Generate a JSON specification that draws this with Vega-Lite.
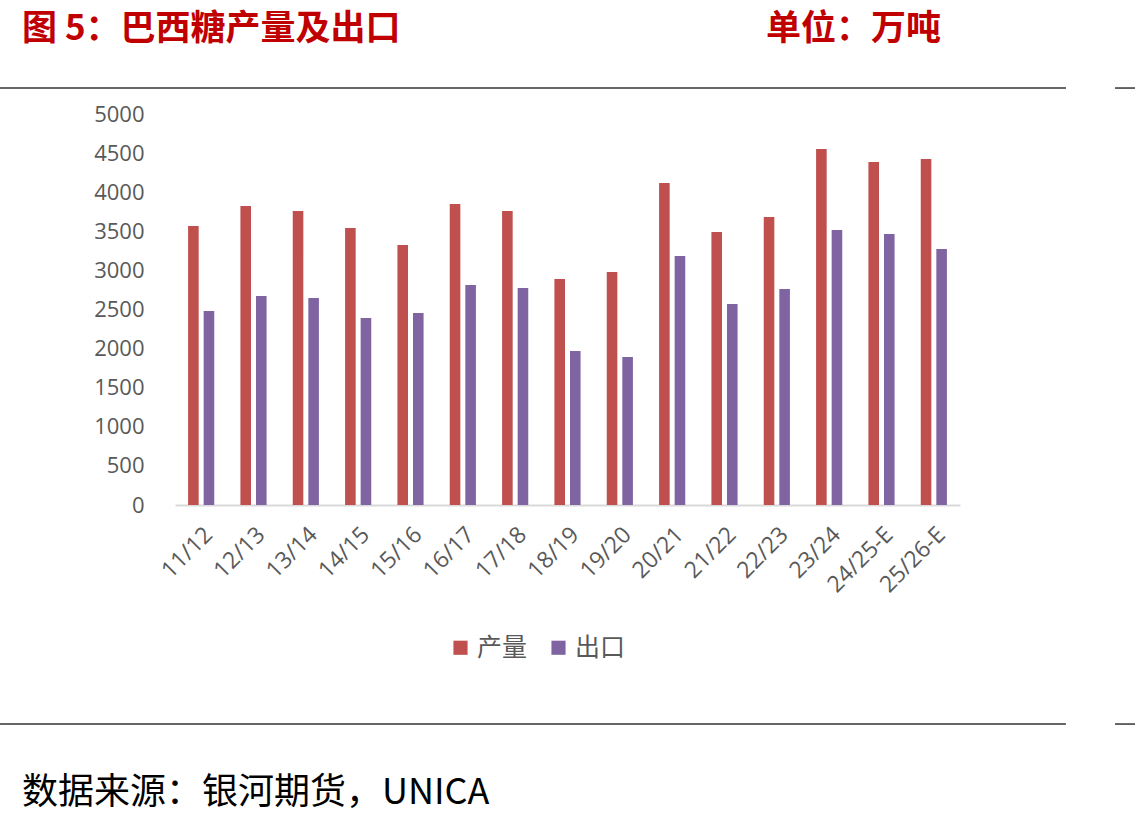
{
  "$schema": "https://vega.github.io/schema/vega-lite/v6.json",
  "width": 785,
  "height": 391,
  "autosize": {"type": "none"},
  "padding": {"left": 175, "top": 114, "right": 175, "bottom": 320},
  "background": "white",
  "config": {
    "view": {"stroke": null},
    "font": "Open Sans",
    "axisY": {"labelOverlap": false, "grid": false, "ticks": false, "domain": false, "labelFontSize": 22, "labelColor": "#595959", "labelPadding": 31, "title": null, "format": "d"}
  },
  "datasets": {
    "sugar": [
      {"season": "11/12", "series": "产量", "value": 3568},
      {"season": "11/12", "series": "出口", "value": 2481},
      {"season": "12/13", "series": "产量", "value": 3824},
      {"season": "12/13", "series": "出口", "value": 2673},
      {"season": "13/14", "series": "产量", "value": 3760},
      {"season": "13/14", "series": "出口", "value": 2647},
      {"season": "14/15", "series": "产量", "value": 3542},
      {"season": "14/15", "series": "出口", "value": 2391},
      {"season": "15/16", "series": "产量", "value": 3325},
      {"season": "15/16", "series": "出口", "value": 2455},
      {"season": "16/17", "series": "产量", "value": 3849},
      {"season": "16/17", "series": "出口", "value": 2813},
      {"season": "17/18", "series": "产量", "value": 3760},
      {"season": "17/18", "series": "出口", "value": 2775},
      {"season": "18/19", "series": "产量", "value": 2890},
      {"season": "18/19", "series": "出口", "value": 1969},
      {"season": "19/20", "series": "产量", "value": 2980},
      {"season": "19/20", "series": "出口", "value": 1893},
      {"season": "20/21", "series": "产量", "value": 4118},
      {"season": "20/21", "series": "出口", "value": 3184},
      {"season": "21/22", "series": "产量", "value": 3491},
      {"season": "21/22", "series": "出口", "value": 2570},
      {"season": "22/23", "series": "产量", "value": 3683},
      {"season": "22/23", "series": "出口", "value": 2762},
      {"season": "23/24", "series": "产量", "value": 4552},
      {"season": "23/24", "series": "出口", "value": 3517},
      {"season": "24/25-E", "series": "产量", "value": 4386},
      {"season": "24/25-E", "series": "出口", "value": 3465},
      {"season": "25/26-E", "series": "产量", "value": 4425},
      {"season": "25/26-E", "series": "出口", "value": 3274}
    ],
    "rules": [
      {"x0": -0.2229, "x1": 1.135, "yv": 5332},
      {"x0": 1.1975, "x1": 1.2229, "yv": 5332},
      {"x0": -0.2229, "x1": 1.135, "yv": -2801},
      {"x0": 1.1975, "x1": 1.2229, "yv": -2801}
    ],
    "texts": [
      {"t": "图 5：巴西糖产量及出口", "xv": -0.1949, "yv": 6090, "kind": "title"},
      {"t": "单位：万吨", "xv": 0.7529, "yv": 6090, "kind": "title"},
      {"t": "数据来源：银河期货，UNICA", "xv": -0.1949, "yv": -3683, "kind": "source"}
    ]
  },
  "resolve": {"scale": {"x": "independent"}},
  "layer": [
    {
      "data": {"name": "sugar"},
      "mark": {"type": "bar", "clip": false},
      "encoding": {
        "x": {
          "field": "season",
          "type": "nominal",
          "sort": null,
          "scale": {"paddingInner": 0.5, "paddingOuter": 0.25},
          "axis": {
            "title": null,
            "labelAngle": -45,
            "labelFontSize": 23,
            "labelColor": "#595959",
            "labelPadding": 18,
            "ticks": false,
            "domainColor": "#D9D9D9",
            "domainWidth": 2
          }
        },
        "xOffset": {
          "field": "series",
          "type": "nominal",
          "sort": ["产量", "出口"],
          "scale": {"paddingInner": 0.32, "paddingOuter": 0}
        },
        "y": {
          "field": "value",
          "type": "quantitative",
          "scale": {"domain": [0, 5000]},
          "axis": {"values": [0, 500, 1000, 1500, 2000, 2500, 3000, 3500, 4000, 4500, 5000]}
        },
        "color": {
          "field": "series",
          "type": "nominal",
          "sort": ["产量", "出口"],
          "scale": {"domain": ["产量", "出口"], "range": ["#C0504D", "#8064A2"]},
          "legend": {
            "title": null,
            "orient": "none",
            "legendX": 273,
            "legendY": 521,
            "direction": "horizontal",
            "symbolType": "square",
            "symbolSize": 200,
            "symbolStrokeWidth": 0,
            "labelFontSize": 25,
            "labelColor": "#595959",
            "labelFont": "Noto Sans CJK SC",
            "labelOffset": 4,
            "columnPadding": 18
          }
        }
      }
    },
    {
      "data": {"name": "rules"},
      "mark": {"type": "rule", "clip": false, "color": "#333333", "strokeWidth": 1.5},
      "encoding": {
        "x": {"field": "x0", "type": "quantitative", "scale": {"domain": [0, 1]}, "axis": null},
        "x2": {"field": "x1"},
        "y": {"field": "yv", "type": "quantitative", "scale": {"domain": [0, 5000]}, "axis": {"values": [0, 500, 1000, 1500, 2000, 2500, 3000, 3500, 4000, 4500, 5000]}}
      }
    },
    {
      "data": {"name": "texts"},
      "transform": [{"filter": "datum.kind === 'title'"}],
      "mark": {"type": "text", "clip": false, "align": "left", "baseline": "middle", "font": "Noto Sans CJK SC", "fontSize": 35, "fontWeight": "bold", "color": "#C00000"},
      "encoding": {
        "x": {"field": "xv", "type": "quantitative", "scale": {"domain": [0, 1]}, "axis": null},
        "y": {"field": "yv", "type": "quantitative", "scale": {"domain": [0, 5000]}, "axis": {"values": [0, 500, 1000, 1500, 2000, 2500, 3000, 3500, 4000, 4500, 5000]}},
        "text": {"field": "t"}
      }
    },
    {
      "data": {"name": "texts"},
      "transform": [{"filter": "datum.kind === 'source'"}],
      "mark": {"type": "text", "clip": false, "align": "left", "baseline": "middle", "font": "Noto Sans CJK SC", "fontSize": 36, "color": "#000000"},
      "encoding": {
        "x": {"field": "xv", "type": "quantitative", "scale": {"domain": [0, 1]}, "axis": null},
        "y": {"field": "yv", "type": "quantitative", "scale": {"domain": [0, 5000]}, "axis": {"values": [0, 500, 1000, 1500, 2000, 2500, 3000, 3500, 4000, 4500, 5000]}},
        "text": {"field": "t"}
      }
    }
  ]
}
